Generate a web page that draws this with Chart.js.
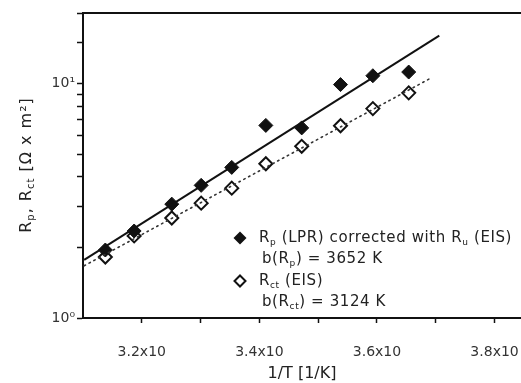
<!DOCTYPE html>
<html>
<head>
<meta charset="utf-8">
<script src="https://cdn.jsdelivr.net/npm/chart.js@4/dist/chart.umd.min.js"></script>
<style>
  html, body { margin: 0; padding: 0; background: #fff; }
  #wrap { width: 521px; height: 383px; }
</style>
</head>
<body>
<div id="wrap"><canvas id="c"></canvas></div>
<script>
// 1/T in 1/K
var invT = [3.138e-3, 3.187e-3, 3.251e-3, 3.301e-3, 3.353e-3, 3.411e-3, 3.472e-3, 3.538e-3, 3.593e-3, 3.654e-3];
// Rp (LPR) corrected with Ru (EIS)
var rpLPR = [1.95, 2.35, 3.06, 3.68, 4.39, 6.63, 6.47, 9.90, 10.8, 11.2];
// Rct (EIS)
var rctEIS = [1.82, 2.24, 2.67, 3.09, 3.58, 4.55, 5.40, 6.61, 7.82, 9.13];
// fitted lines (end points)
var fitRpX = [3.102e-3, 3.706e-3];
var fitRpY = [1.77, 16.0];
var fitRctX = [3.102e-3, 3.693e-3];
var fitRctY = [1.67, 10.6];
// x ticks
var xTicks = [3.2e-3, 3.3e-3, 3.4e-3, 3.5e-3, 3.6e-3, 3.7e-3, 3.8e-3];
var xTickLabels = ["3.2x10", "", "3.4x10", "", "3.6x10", "", "3.8x10"];
var yLabels = {1: "10\u2070", 10: "10\u00b9"};

var FONT = "'DejaVu Sans', sans-serif";
var ink = "#111";
var AXIS_LEFT = 83;

function pts(xs, ys) {
    return xs.map(function (x, i) { return {x: x, y: ys[i]}; });
}

function richText(ctx, parts, x, y, size) {
    parts.forEach(function (p) {
        if (p[1]) {
            ctx.font = Math.round(size * 0.6) + "px " + FONT;
            ctx.fillText(p[0], x, y + size * 0.3);
        } else {
            ctx.font = size + "px " + FONT;
            ctx.fillText(p[0], x, y);
        }
        x += ctx.measureText(p[0]).width;
    });
}

function diamond(ctx, x, y, r, filled) {
    ctx.beginPath();
    ctx.moveTo(x, y - r);
    ctx.lineTo(x + r, y);
    ctx.lineTo(x, y + r);
    ctx.lineTo(x - r, y);
    ctx.closePath();
    if (filled) { ctx.fillStyle = ink; ctx.fill(); }
    else { ctx.fillStyle = "#fff"; ctx.fill(); ctx.lineWidth = 2; ctx.strokeStyle = ink; ctx.stroke(); }
}

var extras = {
    id: "extras",
    afterDraw: function (chart) {
        var ctx = chart.ctx;
        var a = chart.chartArea;
        ctx.save();
        // top frame line
        ctx.strokeStyle = ink;
        ctx.lineWidth = 2;
        ctx.beginPath();
        ctx.moveTo(a.left - 1, a.top);
        ctx.lineTo(chart.width, a.top);
        ctx.stroke();

        // y axis title
        ctx.fillStyle = "#222";
        ctx.textBaseline = "middle";
        ctx.translate(27, 165);
        ctx.rotate(-Math.PI / 2);
        ctx.letterSpacing = "1px";
        var yt = [["R", 0], ["p", 1], [", R", 0], ["ct", 1], [" [\u03a9 x m\u00b2]", 0]];
        var w = 0;
        yt.forEach(function (p) {
            ctx.font = (p[1] ? 10 : 16) + "px " + FONT;
            w += ctx.measureText(p[0]).width;
        });
        richText(ctx, yt, -w / 2, 0, 16);
        ctx.restore();

        // legend
        ctx.save();
        ctx.fillStyle = "#222";
        ctx.textBaseline = "middle";
        ctx.letterSpacing = "0.6px";
        var lx = a.left + 157, ly = a.top + 225;
        diamond(ctx, lx, ly, 6.5, true);
        ctx.fillStyle = "#222";
        richText(ctx, [["R", 0], ["p", 1], [" (LPR) corrected with R", 0], ["u", 1], [" (EIS)", 0]], lx + 19, ly, 15);
        richText(ctx, [["b(R", 0], ["p", 1], [") = 3652 K", 0]], lx + 22, ly + 21, 15);
        diamond(ctx, lx, ly + 43, 5.5, false);
        ctx.fillStyle = "#222";
        richText(ctx, [["R", 0], ["ct", 1], [" (EIS)", 0]], lx + 19, ly + 43, 15);
        richText(ctx, [["b(R", 0], ["ct", 1], [") = 3124 K", 0]], lx + 22, ly + 64, 15);
        ctx.restore();
    }
};

new Chart("c", {
    type: "scatter",
    data: {
        datasets: [
            {
                label: "fit Rp",
                data: pts(fitRpX, fitRpY),
                showLine: true,
                borderColor: ink,
                borderWidth: 2,
                pointRadius: 0
            },
            {
                label: "fit Rct",
                data: pts(fitRctX, fitRctY),
                showLine: true,
                borderColor: "#333",
                borderWidth: 1.6,
                borderDash: [1.5, 4],
                borderCapStyle: "round",
                pointRadius: 0
            },
            {
                label: "Rp (LPR) corrected with Ru (EIS)",
                data: pts(invT, rpLPR),
                pointStyle: "rectRot",
                pointRadius: 7,
                backgroundColor: ink,
                borderColor: ink,
                borderWidth: 1
            },
            {
                label: "Rct (EIS)",
                data: pts(invT, rctEIS),
                pointStyle: "rectRot",
                pointRadius: 6.5,
                backgroundColor: "#fff",
                borderColor: ink,
                borderWidth: 2
            }
        ]
    },
    options: {
        responsive: true,
        maintainAspectRatio: false,
        animation: false,
        layout: { autoPadding: false, padding: { top: 13, right: 0, bottom: 0, left: 0 } },
        plugins: {
            legend: { display: false },
            tooltip: { enabled: false }
        },
        scales: {
            x: {
                type: "linear",
                min: 3.1e-3,
                max: 3.845e-3,
                afterBuildTicks: function (scale) {
                    scale.ticks = xTicks.map(function (v) { return {value: v}; });
                },
                afterFit: function (scale) {
                    scale.height = 65;
                    scale.paddingLeft = 0;
                    scale.paddingRight = 0;
                },
                ticks: {
                    autoSkip: false,
                    maxRotation: 0,
                    padding: 21,
                    color: "#333",
                    font: { family: "DejaVu Sans", size: 14 },
                    callback: function (v, i) { return xTickLabels[i]; }
                },
                grid: { drawOnChartArea: false, tickLength: 5, color: ink, tickWidth: 1.5 },
                border: { display: true, color: ink, width: 2 },
                title: {
                    display: true,
                    text: "1/T [1/K]",
                    color: "#222",
                    font: { family: "DejaVu Sans", size: 16 },
                    padding: { top: 0, bottom: 0 }
                }
            },
            y: {
                type: "logarithmic",
                min: 1,
                max: 20,
                afterFit: function (scale) {
                    scale.width = AXIS_LEFT;
                    scale.paddingTop = 0;
                    scale.paddingBottom = 0;
                },
                ticks: {
                    autoSkip: false,
                    padding: 2,
                    color: "#333",
                    font: { family: "DejaVu Sans", size: 14 },
                    callback: function (v) { return yLabels[v] || ""; }
                },
                grid: { drawOnChartArea: false, tickLength: 6, color: ink, tickWidth: 1.5 },
                border: { display: true, color: ink, width: 2 }
            }
        }
    },
    plugins: [extras]
});
</script>
</body>
</html>
